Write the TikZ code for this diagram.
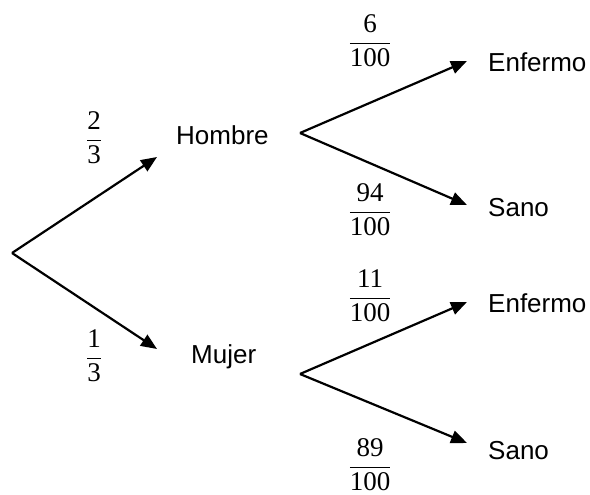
\documentclass[tikz,border=0pt]{standalone}
\usepackage{fontspec}
\setmainfont{Liberation Serif}
\setsansfont{Liberation Sans}
\usetikzlibrary{arrows.meta}

% fraction with text-font digits, set in display style
\newcommand\probfrac[2]{$\displaystyle\frac{\hbox{#1}}{\hbox{#2}}$}

\tikzset{
  branch/.style={line width=2.2pt, -{Triangle[length=16pt,width=13pt]}},
  outcome/.style={anchor=base west, inner sep=0pt, font=\sffamily\fontsize{26}{31}\selectfont},
  prob/.style={anchor=base, inner sep=0pt, font=\rmfamily\fontsize{27}{32}\selectfont},
}

\begin{document}
\begin{tikzpicture}[x=1pt, y=-1pt]
  \useasboundingbox (0,0) rectangle (590,495);

  % branching points and arrow tips
  \coordinate (root) at (12,253);
  \coordinate (hfork) at (300,133);
  \coordinate (mfork) at (300,374);
  \coordinate (htip) at (157,157);
  \coordinate (mtip) at (157,349);
  \coordinate (hetip) at (467,61);
  \coordinate (hstip) at (467,205);
  \coordinate (metip) at (467,302);
  \coordinate (mstip) at (467,443);

  % outcome labels
  \node[outcome] (hombre) at (176,145) {Hombre};
  \node[outcome] (mujer) at (191,363) {Mujer};
  \node[outcome] (henf) at (488,71.5) {Enfermo};
  \node[outcome] (hsano) at (488,216.5) {Sano};
  \node[outcome] (menf) at (488,312.5) {Enfermo};
  \node[outcome] (msano) at (488,459.5) {Sano};

  % probabilities (base point placed one math axis below the fraction bar)
  \node[prob] (p23) at (94,146.75) {\probfrac{2}{3}};
  \node[prob] (p13) at (94,364.75) {\probfrac{1}{3}};
  \node[prob] (p6) at (370,49.75) {\probfrac{6}{100}};
  \node[prob] (p94) at (370,218.75) {\probfrac{94}{100}};
  \node[prob] (p11) at (370,304.75) {\probfrac{11}{100}};
  \node[prob] (p89) at (370,473.75) {\probfrac{89}{100}};

  % tree branches
  \draw[branch] (root) -- (htip);
  \draw[branch] (root) -- (mtip);
  \draw[branch] (hfork) -- (hetip);
  \draw[branch] (hfork) -- (hstip);
  \draw[branch] (mfork) -- (metip);
  \draw[branch] (mfork) -- (mstip);
\end{tikzpicture}
\end{document}
